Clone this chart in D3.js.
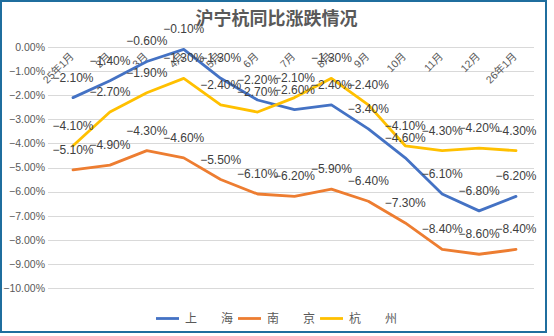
<!DOCTYPE html>
<html><head><meta charset="utf-8">
<script src="https://cdn.jsdelivr.net/npm/d3@7"></script>
<style>body{margin:0;background:#fff}svg{display:block}text{font-family:"Liberation Sans","Noto Sans CJK SC",sans-serif}</style>
</head><body><svg id="c" width="554" height="336"></svg>
<script>
const categories = ["25年1月","2月","3月","4月","5月","6月","7月","8月","9月","10月","11月","12月","26年1月"];
const shanghai = [-2.1,-1.4,-0.6,-0.1,-1.3,-2.2,-2.6,-2.4,-3.4,-4.6,-6.1,-6.8,-6.2];
const nanjing  = [-5.1,-4.9,-4.3,-4.6,-5.5,-6.1,-6.2,-5.9,-6.4,-7.3,-8.4,-8.6,-8.4];
const hangzhou = [-4.1,-2.7,-1.9,-1.3,-2.4,-2.7,-2.1,-1.3,-2.4,-4.1,-4.3,-4.2,-4.3];
const seriesNames = ["上　　海","南　　京","杭　　州"];
const yTicks = [0,-1,-2,-3,-4,-5,-6,-7,-8,-9,-10];
const colors = ["#4472C4","#ED7D31","#FFC000"];
const series = [shanghai, nanjing, hangzhou];

const svg = d3.select("#c");
svg.append("rect").attr("x",1).attr("y",1).attr("width",545).attr("height",331)
  .attr("fill","#fff").attr("stroke","#1F6E9E").attr("stroke-width",2);

const x = d3.scalePoint().domain(categories).range([73, 516]);
const y = d3.scaleLinear().domain([-10,0]).range([288,47]);

svg.append("text").attr("x",276.5).attr("y",25).attr("text-anchor","middle")
  .attr("font-size",18).attr("font-weight","bold").attr("fill","#595959")
  .style("font-family","'Noto Sans CJK SC',sans-serif").text("沪宁杭同比涨跌情况");

// grid
const yAxis = d3.axisLeft(y).tickValues(yTicks).tickSize(-486).tickFormat(d=>d3.format(".2f")(d)+"%");
const gy = svg.append("g").attr("transform","translate(48,0)").call(yAxis);
gy.select(".domain").remove();
gy.selectAll(".tick line").attr("stroke","#D9D9D9").attr("shape-rendering","crispEdges");
gy.selectAll(".tick text").attr("x",-3).attr("font-size",10.5).attr("fill","#595959");

// x labels
const xAxis = d3.axisBottom(x).tickSize(0);
const gx = svg.append("g").attr("transform",`translate(0,${y(0)})`).call(xAxis);
gx.select(".domain").remove();
gx.selectAll(".tick text").attr("font-size",10.5).attr("fill","#595959")
  .attr("text-anchor","end").attr("dy",null).attr("y",0)
  .attr("transform","translate(1,10) rotate(-45)");

const line = d3.line().x((d,i)=>x(categories[i])).y(d=>y(d));
series.forEach((s,k)=>{
  svg.append("path").datum(s).attr("d",line).attr("fill","none")
    .attr("stroke",colors[k]).attr("stroke-width",2.8).attr("stroke-linejoin","round").attr("stroke-linecap","round");
});
series.forEach((s,k)=>{
  svg.append("g").selectAll("text").data(s).join("text")
    .attr("x",(d,i)=>x(categories[i])).attr("y",d=>y(d)-16)
    .attr("text-anchor","middle").attr("font-size",12).attr("fill","#404040")
    .text(d=>d3.format(".2f")(d)+"%");
});

// legend
let lx = 156;
const ly = 318.5;
seriesNames.forEach((n,k)=>{
  svg.append("line").attr("x1",lx).attr("x2",lx+23).attr("y1",ly).attr("y2",ly)
    .attr("stroke",colors[k]).attr("stroke-width",2.8);
  const t = svg.append("text").attr("x",lx+29).attr("y",ly+4.5).attr("font-size",12)
    .attr("fill","#595959").style("font-family","'Noto Sans CJK SC',sans-serif").text(n);
  lx += 29 + t.node().getComputedTextLength() + 5;
});
</script></body></html>
